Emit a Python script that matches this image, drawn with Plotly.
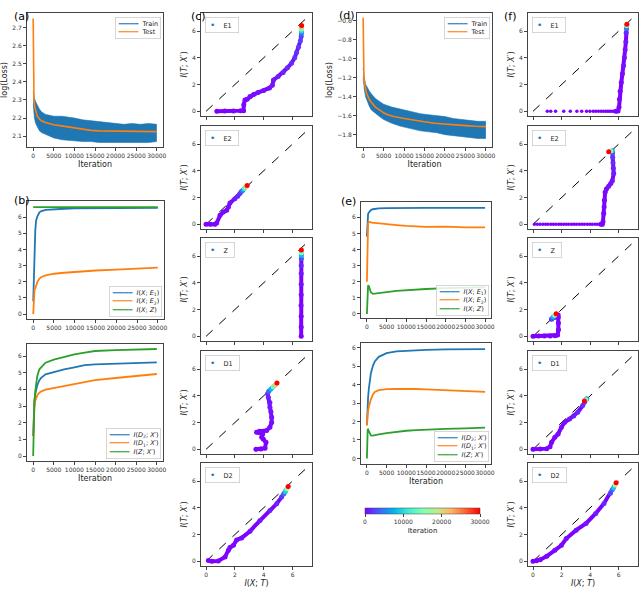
import plotly.graph_objects as go

W, H = 640, 589
BLUE, ORANGE, GREEN = '#1f77b4', '#ff7f0e', '#2ca02c'
PURPLE = '#8000ff'
RAINBOW = [[0.0, '#8000ff'], [0.125, '#4062fa'], [0.25, '#00b4ec'], [0.375, '#40ecd4'],
           [0.5, '#80ffb4'], [0.625, '#bfec8e'], [0.75, '#ffb462'], [0.875, '#ff6232'],
           [1.0, '#ff0000']]

# ---------------- data ----------------
# (a) loss, model 1
a_train_it = [0, 100, 300, 600, 1000, 1500, 2000, 3000, 4000, 5000, 7000, 9000, 10000,
              12000, 14000, 16000, 18000, 20000, 22000, 24000, 26000, 28000, 30000]
a_train_hi = [2.35, 2.33, 2.31, 2.29, 2.27, 2.25, 2.235, 2.22, 2.215, 2.21, 2.21, 2.205, 2.2,
              2.19, 2.185, 2.18, 2.175, 2.17, 2.165, 2.17, 2.165, 2.17, 2.165]
a_train_lo = [2.28, 2.24, 2.2, 2.17, 2.15, 2.13, 2.12, 2.11, 2.1, 2.09, 2.08, 2.075, 2.075,
              2.07, 2.07, 2.065, 2.065, 2.065, 2.065, 2.065, 2.065, 2.065, 2.07]
a_test_it = [0, 50, 100, 200, 400, 700, 1000, 1500, 2000, 3000, 4000, 5000, 6500, 8000,
             10000, 12000, 14000, 16000, 20000, 25000, 30000]
a_test = [2.75, 2.45, 2.33, 2.29, 2.26, 2.23, 2.21, 2.195, 2.185, 2.175, 2.168, 2.163, 2.158,
          2.152, 2.145, 2.138, 2.132, 2.129, 2.127, 2.125, 2.125]

# (b) mutual information, model 1
b_it = [0, 100, 200, 300, 500, 700, 1000, 1500, 2000, 3000, 5000, 7500, 10000, 15000,
        20000, 25000, 30000]
b_xe1 = [0.8, 2.0, 3.5, 4.0, 5.2, 5.8, 6.05, 6.3, 6.38, 6.45, 6.5, 6.52, 6.54, 6.55, 6.56,
         6.57, 6.57]
b_xe2 = [0.0, 0.9, 1.3, 1.5, 1.6, 1.8, 2.0, 2.2, 2.3, 2.4, 2.5, 2.56, 2.62, 2.7, 2.75, 2.82,
         2.88]
b_xz_it = [0, 30000]
b_xz = [6.62, 6.62]

b2_it = [0, 100, 200, 300, 500, 700, 1000, 1500, 2000, 3000, 5000, 7500, 10000, 12500,
         15000, 20000, 25000, 30000]
b2_d2 = [1.2, 2.0, 2.8, 3.3, 3.7, 4.0, 4.25, 4.55, 4.7, 4.9, 5.05, 5.2, 5.32, 5.45, 5.5,
         5.55, 5.6, 5.62]
b2_d1 = [1.2, 1.9, 2.6, 3.0, 3.3, 3.5, 3.65, 3.8, 3.88, 3.98, 4.08, 4.2, 4.3, 4.45, 4.55,
         4.68, 4.8, 4.92]
b2_z = [0.0, 1.8, 2.8, 3.3, 3.9, 4.4, 4.8, 5.2, 5.35, 5.6, 5.78, 5.95, 6.1, 6.2, 6.3, 6.35,
        6.38, 6.42]

# (d) loss, model 2
d_train_it = a_train_it
d_train_hi = [-1.1, -1.15, -1.2, -1.27, -1.31, -1.34, -1.37, -1.42, -1.45, -1.48, -1.51,
              -1.53, -1.54, -1.56, -1.58, -1.59, -1.6, -1.61, -1.63, -1.64, -1.65, -1.66, -1.66]
d_train_lo = [-1.2, -1.28, -1.33, -1.4, -1.45, -1.5, -1.54, -1.58, -1.61, -1.64, -1.68,
              -1.71, -1.72, -1.74, -1.76, -1.77, -1.78, -1.8, -1.81, -1.82, -1.83, -1.84, -1.84]
d_test_it = [0, 50, 100, 200, 300, 500, 800, 1000, 1500, 2000, 2500, 3000, 4000, 5000, 6000,
             7500, 10000, 12500, 15000, 17500, 20000, 22500, 25000, 27500, 30000]
d_test = [-0.57, -0.9, -1.05, -1.2, -1.25, -1.31, -1.36, -1.38, -1.43, -1.46, -1.49, -1.51,
          -1.54, -1.57, -1.59, -1.61, -1.63, -1.65, -1.665, -1.68, -1.69, -1.7, -1.705,
          -1.712, -1.716]

# (e) mutual information, model 2
e_it = [0, 100, 200, 300, 500, 700, 1000, 1500, 2000, 3000, 5000, 7500, 10000, 12500, 15000,
        20000, 25000, 30000]
e_xe1 = [4.8, 5.8, 6.1, 6.2, 6.3, 6.38, 6.45, 6.5, 6.52, 6.55, 6.57, 6.58, 6.58, 6.58, 6.58,
         6.58, 6.58, 6.58]
e_xe2 = [2.0, 5.0, 5.5, 5.65, 5.72, 5.7, 5.68, 5.66, 5.65, 5.62, 5.58, 5.52, 5.47, 5.42, 5.4,
         5.42, 5.37, 5.38]
e_xz = [0.0, 1.2, 1.75, 1.78, 1.72, 1.55, 1.35, 1.25, 1.26, 1.3, 1.36, 1.43, 1.48, 1.52, 1.55,
        1.6, 1.62, 1.65]
e2_d2 = [1.8, 2.5, 2.9, 3.3, 3.8, 4.2, 4.6, 5.0, 5.25, 5.5, 5.7, 5.8, 5.83, 5.86, 5.88, 5.9,
         5.91, 5.92]
e2_d1 = [1.8, 2.3, 2.5, 2.6, 2.8, 3.0, 3.2, 3.45, 3.6, 3.7, 3.75, 3.76, 3.77, 3.76, 3.74,
         3.7, 3.66, 3.6]
e2_z = [0.0, 1.1, 1.6, 1.58, 1.48, 1.35, 1.25, 1.24, 1.27, 1.3, 1.37, 1.44, 1.5, 1.53, 1.56,
        1.6, 1.63, 1.67]

# (c) information plane paths, model 1: I(X;T), I(T;X'), iteration
c_e1_x = [0.75, 1.3, 1.9, 2.4, 2.6, 2.62, 2.7, 2.85, 3.05, 3.3, 3.6, 4.0, 4.4, 4.6, 4.68, 5.0,
          5.35, 5.65, 5.93, 6.15, 6.28, 6.42, 6.54, 6.6, 6.62, 6.62, 6.62, 6.63, 6.63]
c_e1_y = [0.0, 0.02, 0.03, 0.04, 0.05, 0.5, 0.85, 0.9, 1.1, 1.25, 1.4, 1.55, 1.75, 1.95, 2.35,
          2.6, 2.9, 3.25, 3.6, 4.0, 4.4, 4.8, 5.25, 5.6, 5.85, 6.0, 6.15, 6.3, 6.42]
c_e1_it = [0, 50, 100, 150, 200, 250, 300, 350, 400, 500, 600, 700, 800, 900, 1000, 1200,
           1400, 1600, 1800, 2000, 2200, 2400, 2600, 2800, 5000, 10000, 15000, 22000, 30000]

c_e2_x = [0.0, 0.3, 0.62, 0.74, 0.97, 1.2, 1.43, 1.55, 1.66, 2.0, 2.2, 2.35, 2.45, 2.55, 2.65,
          2.75, 2.85]
c_e2_y = [0.0, 0.0, 0.0, 0.1, 0.67, 0.92, 1.05, 1.3, 1.6, 1.92, 2.1, 2.3, 2.45, 2.55, 2.68,
          2.8, 2.9]
c_e2_it = [0, 50, 100, 150, 200, 300, 400, 500, 700, 1000, 1500, 2000, 3000, 6000, 12000,
           20000, 30000]

c_z_x = [6.6, 6.6, 6.6, 6.59, 6.6, 6.6, 6.6, 6.6, 6.61, 6.61, 6.61, 6.61]
c_z_y = [0.0, 0.7, 1.5, 2.3, 3.1, 3.9, 4.7, 5.3, 5.8, 6.05, 6.25, 6.45]
c_z_it = [0, 100, 200, 300, 500, 700, 1000, 1500, 3000, 8000, 15000, 30000]

c_d1_x = [3.46, 3.8, 4.09, 4.16, 3.97, 3.86, 3.93, 3.5, 3.7, 4.2, 4.43, 4.55, 4.55, 4.5, 4.43,
          4.43, 4.32, 4.27, 4.35, 4.5, 4.66, 4.8, 4.92]
c_d1_y = [0.0, 0.02, 0.08, 0.52, 0.78, 0.9, 1.15, 1.27, 1.35, 1.4, 1.65, 2.0, 2.4, 2.8, 3.15,
          3.5, 3.9, 4.15, 4.35, 4.5, 4.65, 4.8, 4.95]
c_d1_it = [0, 50, 100, 150, 200, 250, 300, 350, 400, 450, 500, 600, 700, 800, 900, 1000, 1300,
           1700, 4000, 8000, 14000, 21000, 30000]

c_d2_x = [0.16, 0.4, 0.85, 1.32, 1.55, 1.66, 1.9, 2.12, 2.47, 3.05, 3.74, 4.43, 4.9, 5.24,
          5.4, 5.5, 5.6, 5.7]
c_d2_y = [0.07, 0.0, 0.03, 0.33, 0.83, 1.03, 1.2, 1.6, 1.75, 2.25, 3.05, 3.8, 4.3, 4.8, 5.05,
          5.2, 5.4, 5.6]
c_d2_it = [0, 50, 100, 150, 200, 250, 300, 400, 500, 700, 900, 1200, 1600, 2200, 4000, 9000,
           16000, 30000]

# (f) information plane paths, model 2
f_e1_sx = [1.0, 1.24, 1.58, 2.15, 2.61, 3.07, 3.41, 3.75, 3.98, 4.21, 4.39, 4.58, 4.76, 4.92,
           5.08, 5.22, 5.35, 5.49, 5.63, 5.77]
f_e1_sy = [0.0, 0.0, 0.0, 0.0, 0.0, 0.0, 0.0, 0.0, 0.0, 0.0, 0.0, 0.0, 0.0, 0.0, 0.0, 0.0,
           0.0, 0.0, 0.0, 0.0]
f_e1_sit = [0, 5, 10, 15, 20, 25, 30, 35, 40, 45, 50, 55, 60, 65, 70, 75, 80, 85, 90, 95]
f_e1_x = [5.8, 5.95, 6.02, 6.05, 6.1, 6.18, 6.26, 6.34, 6.4, 6.45, 6.5, 6.52, 6.54, 6.56, 6.57]
f_e1_y = [0.0, 0.02, 0.3, 0.9, 1.5, 2.15, 2.8, 3.4, 4.0, 4.6, 5.2, 5.85, 6.2, 6.4, 6.5]
f_e1_it = [100, 150, 200, 250, 300, 400, 500, 600, 700, 800, 1000, 1500, 5000, 15000, 30000]

f_e2_sx = [0.1, 0.3, 0.5, 0.7, 0.88, 1.05, 1.25, 1.42, 1.6, 1.8, 1.97, 2.15, 2.33, 2.5, 2.7,
           2.88, 3.05, 3.25, 3.43, 3.6, 3.8, 3.98, 4.15, 4.35, 4.52, 4.7]
f_e2_sy = [0.0, 0.0, 0.0, 0.0, 0.0, 0.0, 0.0, 0.0, 0.0, 0.0, 0.0, 0.0, 0.0, 0.0, 0.0, 0.0,
           0.0, 0.0, 0.0, 0.0, 0.0, 0.0, 0.0, 0.0, 0.0, 0.0]
f_e2_sit = [0, 4, 8, 12, 16, 20, 24, 28, 32, 36, 40, 44, 48, 52, 56, 60, 64, 68, 72, 76, 80,
            84, 88, 92, 96, 100]
f_e2_x = [4.75, 4.85, 4.9, 4.95, 4.98, 5.0, 5.05, 5.15, 5.3, 5.45, 5.55, 5.65, 5.62, 5.6, 5.58,
          5.57, 5.55, 5.45, 5.3]
f_e2_y = [0.0, 0.0, 0.2, 0.8, 1.3, 1.8, 2.4, 2.65, 2.85, 3.05, 3.25, 3.8, 4.2, 4.6, 5.0, 5.35,
          5.5, 5.48, 5.42]
f_e2_it = [110, 130, 160, 200, 250, 300, 400, 500, 600, 700, 800, 1000, 1300, 1700, 2200, 3000,
           8000, 16000, 30000]

f_z_x = [0.0, 0.4, 0.8, 1.2, 1.55, 1.72, 1.78, 1.78, 1.77, 1.76, 1.7, 1.5, 1.3, 1.32, 1.42,
         1.52, 1.62]
f_z_y = [0.0, 0.02, 0.03, 0.03, 0.04, 0.1, 0.5, 1.0, 1.4, 1.6, 1.55, 1.4, 1.28, 1.32, 1.45,
         1.57, 1.68]
f_z_it = [0, 20, 40, 60, 80, 100, 130, 160, 200, 250, 400, 700, 1000, 3000, 8000, 16000, 30000]

f_d1_x = [0.0, 0.5, 0.96, 1.19, 1.3, 1.53, 1.76, 1.99, 2.22, 2.56, 2.85, 3.13, 3.48, 3.62,
          3.72, 3.76, 3.7, 3.6]
f_d1_y = [0.0, 0.02, 0.05, 0.2, 0.52, 0.9, 1.15, 1.65, 2.02, 2.27, 2.5, 2.77, 3.27, 3.55,
          3.7, 3.78, 3.7, 3.62]
f_d1_it = [0, 50, 100, 150, 200, 300, 400, 500, 700, 900, 1200, 1500, 2000, 2500, 3200, 6000,
           15000, 30000]

f_d2_x = [0.0, 0.25, 0.5, 0.96, 1.53, 1.99, 2.33, 3.02, 3.71, 4.39, 4.97, 5.42, 5.55, 5.65,
          5.75, 5.82]
f_d2_y = [0.0, 0.05, 0.12, 0.37, 0.83, 1.2, 1.7, 2.33, 2.83, 3.58, 4.33, 5.08, 5.35, 5.5,
          5.7, 5.88]
f_d2_it = [0, 50, 100, 200, 300, 400, 500, 700, 900, 1200, 1600, 2500, 4000, 9000, 18000,
           30000]

diag = [0, 7]
iter_ticks = [0, 5000, 10000, 15000, 20000, 25000, 30000]
mi_ticks = [0, 2, 4, 6]

# ---------------- figure ----------------
fig = go.Figure()
AX = dict(showline=True, mirror=True, linecolor='#444', linewidth=0.8, ticks='outside',
          ticklen=3, tickwidth=0.8, tickcolor='#444', showgrid=False, zeroline=False,
          automargin=False, tickfont=dict(size=6, color='#333'))
n_axes = [0]


def add_axes(box, xr, yr, xticks, yticks, xtitle=None, ytitle=None, xlabels=True, yfmt=None):
    n_axes[0] += 1
    s = '' if n_axes[0] == 1 else str(n_axes[0])
    l, r, t, b = box
    xa = dict(AX, domain=[l / W, r / W], range=xr, anchor='y' + s, tickvals=xticks,
              showticklabels=xlabels, tickformat='d', tickangle=0)
    ya = dict(AX, domain=[1 - b / H, 1 - t / H], range=yr, anchor='x' + s, tickvals=yticks)
    if yfmt:
        ya['tickformat'] = yfmt
    if xtitle:
        xa['title'] = dict(text=xtitle, font=dict(size=8, color='#222'), standoff=3)
    if ytitle:
        ya['title'] = dict(text=ytitle, font=dict(size=8, color='#222'), standoff=3)
    fig.update_layout(**{'xaxis' + s: xa, 'yaxis' + s: ya})
    return 'x' + s, 'y' + s


def legend_box(xr, yr, text, x, y, xa, ya):
    fig.add_annotation(xref=xr + ' domain', yref=yr + ' domain', x=x, y=y, xanchor=xa,
                       yanchor=ya, text=text, showarrow=False, align='left',
                       font=dict(size=6.5, color='#222'), bgcolor='rgba(255,255,255,0.85)',
                       bordercolor='#cccccc', borderwidth=0.8, borderpad=2)


def line_legend(names, colors):
    return '<br>'.join("<span style='color:%s'>━━━━━</span>  %s" % (c, nm)
                       for nm, c in zip(names, colors))


def loss_panel(box, it, hi, lo, tit, test, yr, yticks, yfmt):
    xr, yr_ = add_axes(box, [-1500, 31500], yr, iter_ticks, yticks,
                       xtitle='Iteration', ytitle='log(Loss)', yfmt=yfmt)
    fig.add_trace(go.Scatter(x=it, y=hi, mode='lines', line=dict(color=BLUE, width=0.6),
                             xaxis=xr, yaxis=yr_, showlegend=False))
    fig.add_trace(go.Scatter(x=it, y=lo, mode='lines', line=dict(color=BLUE, width=0.6),
                             fill='tonexty', fillcolor=BLUE, xaxis=xr, yaxis=yr_,
                             showlegend=False))
    fig.add_trace(go.Scatter(x=tit, y=test, mode='lines', line=dict(color=ORANGE, width=1.6),
                             xaxis=xr, yaxis=yr_, showlegend=False))
    legend_box(xr, yr_, line_legend(['Train', 'Test'], [BLUE, ORANGE]), 0.985, 0.97,
               'right', 'top')


def mi_panel(box, series, names, yr, xtitle):
    xr, yr_ = add_axes(box, [-1500, 31500], yr, iter_ticks, [0, 1, 2, 3, 4, 5, 6],
                       xtitle=xtitle)
    for (it, vals), c in zip(series, [BLUE, ORANGE, GREEN]):
        fig.add_trace(go.Scatter(x=it, y=vals, mode='lines', line=dict(color=c, width=1.8),
                                 xaxis=xr, yaxis=yr_, showlegend=False))
    legend_box(xr, yr_, line_legend(names, [BLUE, ORANGE, GREEN]), 0.985, 0.02,
               'right', 'bottom')


def plane_panel(box, label, x, y, it, sparse=None, last=False):
    xr, yr_ = add_axes(box, [-0.35, 7.35], [-0.35, 7.35], mi_ticks, mi_ticks,
                       xtitle='<i>I</i>(<i>X</i>; <i>T</i>)' if last else None,
                       ytitle='<i>I</i>(<i>T</i>; <i>X</i>′)', xlabels=last)
    fig.add_trace(go.Scatter(x=diag, y=diag, mode='lines',
                             line=dict(color='black', width=1, dash='dash'),
                             xaxis=xr, yaxis=yr_, showlegend=False))
    if sparse:
        sx, sy, sit = sparse
        fig.add_trace(go.Scatter(x=sx, y=sy, mode='markers',
                                 marker=dict(size=3.5, color=sit, coloraxis='coloraxis'),
                                 xaxis=xr, yaxis=yr_, showlegend=False))
    fig.add_trace(go.Scatter(x=x, y=y, mode='lines+markers', line=dict(color=PURPLE, width=4),
                             marker=dict(size=5, color=it, coloraxis='coloraxis'),
                             xaxis=xr, yaxis=yr_, showlegend=False))
    legend_box(xr, yr_,
               "\u00a0<span style='color:%s;font-size:9px'>•</span>\u00a0\u00a0\u00a0\u00a0%s\u00a0\u00a0"
               % (BLUE, label), 0.035, 0.96, 'left', 'top')


loss_panel((27, 163, 13, 147), a_train_it, a_train_hi, a_train_lo, a_test_it, a_test,
           [2.04, 2.78], [2.1, 2.2, 2.3, 2.4, 2.5, 2.6, 2.7], '.1f')
mi_panel((27, 164, 201, 319), [(b_it, b_xe1), (b_it, b_xe2), (b_xz_it, b_xz)],
         ['<i>I</i>(<i>X</i>; <i>E</i><sub>1</sub>)', '<i>I</i>(<i>X</i>; <i>E</i><sub>2</sub>)',
          '<i>I</i>(<i>X</i>; <i>Z</i>)'], [-0.3, 7.0], None)
mi_panel((27, 163, 344, 461), [(b2_it, b2_d2), (b2_it, b2_d1), (b2_it, b2_z)],
         ['<i>I</i>(<i>D</i><sub>2</sub>; <i>X</i>′)', '<i>I</i>(<i>D</i><sub>1</sub>; <i>X</i>′)',
          '<i>I</i>(<i>Z</i>; <i>X</i>′)'], [-0.3, 6.72], 'Iteration')

c_tops = [13, 126, 238, 351, 463]
c_sets = [('E1', c_e1_x, c_e1_y, c_e1_it), ('E2', c_e2_x, c_e2_y, c_e2_it),
          ('Z', c_z_x, c_z_y, c_z_it), ('D1', c_d1_x, c_d1_y, c_d1_it),
          ('D2', c_d2_x, c_d2_y, c_d2_it)]
for i, (lab, x, y, it) in enumerate(c_sets):
    plane_panel((201, 312, c_tops[i], c_tops[i] + 103), lab, x, y, it, last=(i == 4))

loss_panel((357, 492, 13, 147), d_train_it, d_train_hi, d_train_lo, d_test_it, d_test,
           [-1.93, -0.52], [-1.8, -1.6, -1.4, -1.2, -1.0, -0.8, -0.6], '.1f')
mi_panel((361, 491, 202, 318), [(e_it, e_xe1), (e_it, e_xe2), (e_it, e_xz)],
         ['<i>I</i>(<i>X</i>; <i>E</i><sub>1</sub>)', '<i>I</i>(<i>X</i>; <i>E</i><sub>2</sub>)',
          '<i>I</i>(<i>X</i>; <i>Z</i>)'], [-0.25, 6.95], None)
mi_panel((361, 491, 343, 464), [(e_it, e2_d2), (e_it, e2_d1), (e_it, e2_z)],
         ['<i>I</i>(<i>D</i><sub>2</sub>; <i>X</i>′)', '<i>I</i>(<i>D</i><sub>1</sub>; <i>X</i>′)',
          '<i>I</i>(<i>Z</i>; <i>X</i>′)'], [-0.3, 6.25], 'Iteration')

f_sets = [('E1', f_e1_x, f_e1_y, f_e1_it, (f_e1_sx, f_e1_sy, f_e1_sit)),
          ('E2', f_e2_x, f_e2_y, f_e2_it, (f_e2_sx, f_e2_sy, f_e2_sit)),
          ('Z', f_z_x, f_z_y, f_z_it, None), ('D1', f_d1_x, f_d1_y, f_d1_it, None),
          ('D2', f_d2_x, f_d2_y, f_d2_it, None)]
for i, (lab, x, y, it, sp) in enumerate(f_sets):
    plane_panel((528, 638, c_tops[i], c_tops[i] + 103), lab, x, y, it, sparse=sp,
                last=(i == 4))

# panel letters
for txt, px, py in [('(a)', 12, 8), ('(b)', 12, 192), ('(c)', 189, 8), ('(d)', 347, 7),
                    ('(e)', 348, 193), ('(f)', 518, 8)]:
    fig.add_annotation(xref='paper', yref='paper', x=px / W, y=1 - py / H, text=txt,
                       showarrow=False, font=dict(size=11, color='black'))

fig.update_layout(
    width=W, height=H, margin=dict(l=0, r=0, t=0, b=0),
    paper_bgcolor='white', plot_bgcolor='white',
    font=dict(family='DejaVu Sans', color='#222'),
    showlegend=False,
    coloraxis=dict(
        colorscale=RAINBOW, cmin=0, cmax=30000,
        colorbar=dict(orientation='h', x=422.5 / W, xanchor='center', y=1 - 507.5 / H,
                      yanchor='top', len=115, lenmode='pixels', thickness=6,
                      thicknessmode='pixels', xpad=0, ypad=0, outlinewidth=0.5,
                      outlinecolor='#444', tickvals=[0, 10000, 20000, 30000],
                      tickformat='d', ticks='outside', ticklen=3,
                      tickfont=dict(size=6, color='#333'),
                      title=dict(text='Iteration', side='bottom',
                                 font=dict(size=7, color='#222')))),
)

# the page body has a default 8px margin; drop it so the figure sits at the corner
fig.write_html("out.html", config={'displayModeBar': False},
               post_script="document.body.style.margin = '0';")
